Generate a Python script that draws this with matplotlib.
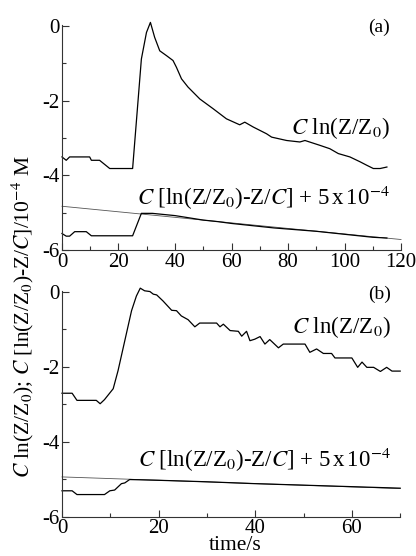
import matplotlib
matplotlib.use("Agg")
import matplotlib.pyplot as plt
from matplotlib.ticker import MultipleLocator

plt.rcParams['font.family'] = ['Liberation Serif', 'DejaVu Serif']
plt.rcParams['mathtext.fontset'] = 'stix'
plt.rcParams['axes.unicode_minus'] = False

# Panel (a)
a_t1 = [0, 1.5, 2.7, 9.8, 10.4, 13.3, 16.9, 25, 28.1, 29.9, 31.3, 32.8, 34.6, 37, 39.3, 40.5,
        42.3, 44.6, 48.8, 53.5, 58.2, 62.9, 64.7, 67.7, 72.4, 74.2, 79.5, 84.2, 86, 91.3,
        94.8, 97.8, 101.9, 105.5, 107.8, 110.2, 112.6, 115]
a_v1 = [-3.51, -3.6, -3.51, -3.51, -3.6, -3.6, -3.82, -3.82, -0.89, -0.18, 0.09, -0.31, -0.67,
        -0.8, -0.93, -1.11, -1.42, -1.64, -1.96, -2.22, -2.49, -2.65, -2.58, -2.71, -2.89,
        -2.98, -3.07, -3.11, -3.07, -3.2, -3.29, -3.42, -3.51, -3.64, -3.73, -3.82, -3.82, -3.78]
a_t2 = [0, 1.5, 2.7, 4.5, 8.6, 10.4, 25, 28.1, 32, 36, 40, 45, 50, 55, 60, 65, 70, 75, 80,
        85, 90, 95, 100, 105, 110, 115]
a_v2 = [-5.56, -5.63, -5.63, -5.51, -5.51, -5.62, -5.62, -5.02, -5.02, -5.05, -5.08, -5.14,
        -5.2, -5.24, -5.29, -5.33, -5.37, -5.41, -5.44, -5.47, -5.5, -5.54, -5.58, -5.62,
        -5.66, -5.68]
a_fit_t = [0, 120]
a_fit_v = [-4.83, -5.72]

# Panel (b)
b_t1 = [0, 2.1, 3.1, 7.1, 7.9, 8.8, 10.6, 11.6, 13, 14.4, 15.4, 16.2, 17.1, 18.2, 18.9, 19.6,
        20.9, 22.7, 23.7, 24.7, 26.1, 27.5, 28.5, 32, 32.7, 33.4, 34.8, 36.5, 37.2, 38.2, 38.9,
        39.9, 41, 42, 43, 44.8, 45.8, 50.3, 51.3, 52.7, 54.1, 55.8, 56.5, 60, 61.2, 62.1, 63.1,
        64.5, 65.9, 67.2, 68.3, 70]
b_v1 = [-2.71, -2.71, -2.9, -2.9, -2.99, -2.88, -2.59, -2.11, -1.31, -0.51, -0.12, 0.09, 0.02,
        0, -0.07, -0.09, -0.25, -0.5, -0.51, -0.65, -0.75, -0.94, -0.84, -0.84, -0.94, -0.87,
        -1.04, -1.06, -1.19, -1.06, -1.31, -1.27, -1.2, -1.4, -1.28, -1.5, -1.4, -1.4, -1.62,
        -1.53, -1.65, -1.65, -1.77, -1.77, -2.02, -1.88, -2.02, -2.02, -2.13, -2.02, -2.12, -2.12]
b_t2 = [0, 2.1, 3.1, 8.8, 9.9, 10.9, 12.3, 13, 14, 20, 30, 40, 50, 60, 70]
b_v2 = [-5.31, -5.31, -5.41, -5.41, -5.31, -5.29, -5.12, -5.1, -5.01, -5.03, -5.07, -5.12,
        -5.16, -5.2, -5.24]
b_fit_t = [0, 70]
b_fit_v = [-4.94, -5.25]

y_ticks = [0, -2, -4, -6]
y_ticklabels = ['0', '-2', '-4', '-6']
b_xticks = [0, 20, 40, 60]

fig = plt.figure(figsize=(4.16, 5.56), dpi=100)
ax1 = fig.add_axes([0.149, 0.5504, 0.815, 0.4046])
ax2 = fig.add_axes([0.149, 0.0707, 0.813, 0.4063])

def style(ax, xmax, xmaj):
    for s in ['top', 'right']:
        ax.spines[s].set_visible(False)
    for s in ['left', 'bottom']:
        ax.spines[s].set_linewidth(0.8)
        ax.spines[s].set_color('#333333')
    ax.set_xlim(0, xmax)
    ax.set_ylim(-6, 0.02)
    ax.xaxis.set_major_locator(MultipleLocator(xmaj))
    ax.xaxis.set_minor_locator(MultipleLocator(xmaj / 2))
    ax.yaxis.set_major_locator(MultipleLocator(2))
    ax.yaxis.set_minor_locator(MultipleLocator(1))
    ax.tick_params(which='both', direction='in', labelsize=15, width=0.8, color='#333333')
    ax.tick_params(which='major', length=5, pad=2)
    ax.tick_params(which='minor', length=3)
    ax.set_yticks(y_ticks)
    ax.set_yticklabels(y_ticklabels)

style(ax1, 120, 20)
style(ax2, 70, 20)
ax2.set_xticks(b_xticks)

lw = 0.9
ax1.plot(a_fit_t, a_fit_v, color='#555555', lw=0.6, clip_on=False)
ax1.plot(a_t1, a_v1, color='black', lw=lw, clip_on=False)
ax1.plot(a_t2, a_v2, color='black', lw=lw, clip_on=False)
ax2.plot(b_fit_t, b_fit_v, color='#555555', lw=0.6, clip_on=False)
ax2.plot(b_t1, b_v1, color='black', lw=lw, clip_on=False)
ax2.plot(b_t2, b_v2, color='black', lw=lw, clip_on=False)

fs = 16.5
lab1 = r'$C$ ln(Z/Z$_0$)'
lab2 = r'$C$ [ln(Z/Z$_0$)-Z/$C$] + 5$\,$x$\,$10$^{-4}$'
ax1.text(116, -0.05, '(a)', fontsize=14, ha='right', va='center')
ax1.text(116, -2.75, lab1, fontsize=fs, ha='right', va='center')
ax1.text(116, -4.6, lab2, fontsize=fs, ha='right', va='center')
ax2.text(68, -0.08, '(b)', fontsize=14, ha='right', va='center')
ax2.text(68, -0.95, lab1, fontsize=fs, ha='right', va='center')
ax2.text(68, -4.5, lab2, fontsize=fs, ha='right', va='center')

fig.text(0.565, 0.018, 'time/s', fontsize=15.5, ha='center', va='center')
fig.text(0.055, 0.43, r'$C$ ln(Z/Z$_0$); $C$ [ln(Z/Z$_0$)-Z/$C$]/10$^{-4}$ M',
         fontsize=15.5, rotation=90, ha='center', va='center')

fig.savefig('out.png', dpi=100)
